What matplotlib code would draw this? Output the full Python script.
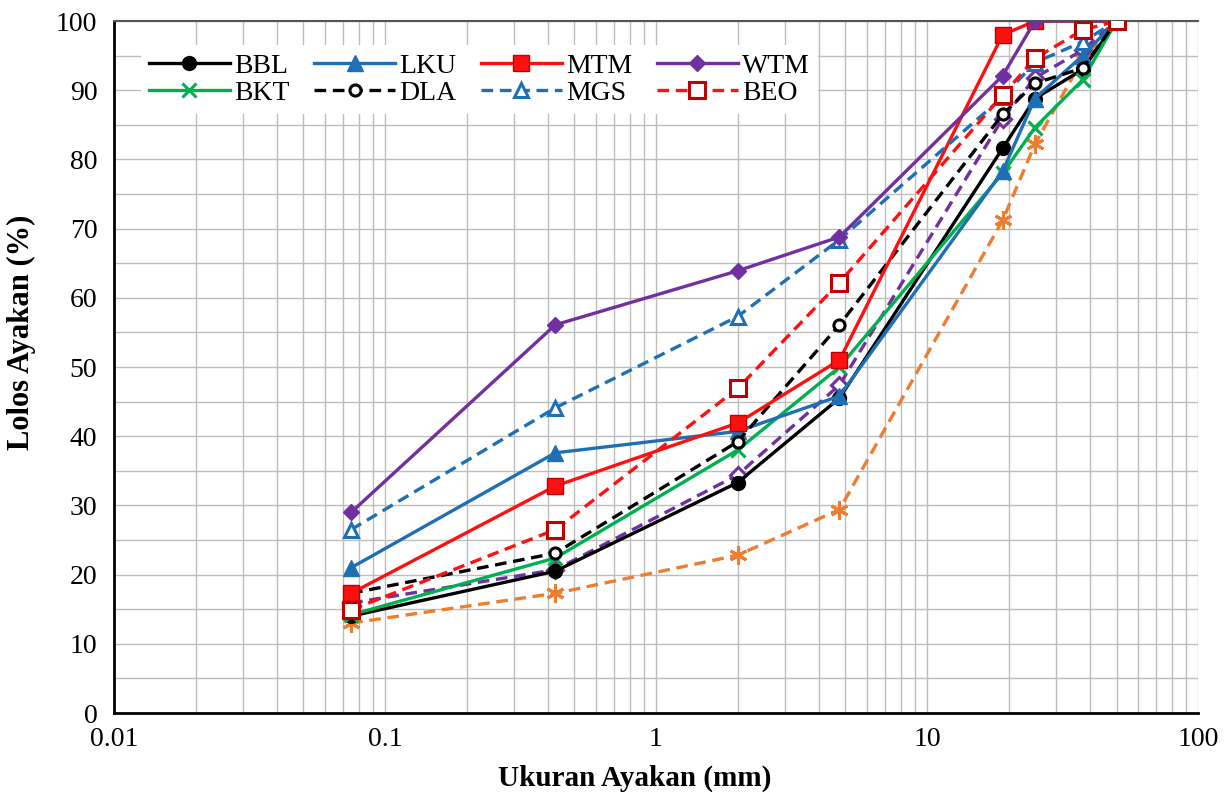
import numpy as np
import matplotlib
matplotlib.use("Agg")
import matplotlib.pyplot as plt
from matplotlib.ticker import MultipleLocator, LogLocator, NullFormatter, FixedFormatter, FixedLocator

plt.rcParams['font.family'] = ['Liberation Serif', 'DejaVu Serif']

# ukuran saringan (mm)
sieve = [0.075, 0.425, 2.0, 4.75, 19.0, 25.0, 37.5, 50.0]

# persen lolos tiap sumber
BBL = [14.0, 20.5, 33.3, 45.5, 81.6, 88.8, 93.0, 100]
LKU = [21.0, 37.6, 40.7, 45.8, 78.3, 88.8, 95.0, 100]
MTM = [17.3, 32.8, 41.9, 51.0, 98.0, 100, 100, 100]
WTM = [29.0, 56.1, 63.9, 68.8, 92.1, 100, 100, 100]
BKT = [14.2, 22.4, 38.0, 50.0, 78.0, 84.6, 91.5, 100]
DLA = [17.3, 23.1, 39.2, 56.1, 86.5, 91.0, 93.2, 100]
MGS = [26.5, 44.1, 57.3, 68.4, 89.0, 94.0, 97.0, 100]
BEO = [14.9, 26.5, 46.9, 62.2, 89.3, 94.6, 98.7, 100]
UNK_PURPLE = [15.9, 20.7, 34.4, 47.4, 85.9, 91.8, 95.8, 100]
UNK_ORANGE = [13.0, 17.3, 22.8, 29.4, 71.2, 82.2, 94.5, 100]

BLACK = "#000000"; BLUE = "#1f6fb5"; RED = "#ff1010"; PURPLE = "#7030a0"
GREEN = "#00b050"; ORANGE = "#ed7d31"; DRED = "#c00000"

fig = plt.figure(figsize=(12.32, 7.94), dpi=100)
ax = fig.add_axes([0.0925, 0.102, 0.88, 0.8715])

lw = 2.4
ms = 10
dash = (3.5, 2.0)

# garis di belakang dulu
ax.plot(sieve, UNK_ORANGE, color=ORANGE, lw=lw, dashes=dash, marker=(6, 2, 0),
        ms=13, mew=2.2, label="_nolegend_", zorder=2)
ax.plot(sieve, UNK_PURPLE, color=PURPLE, lw=lw, dashes=dash, marker="D", ms=8,
        mfc="white", mec=PURPLE, mew=2.2, label="_nolegend_", zorder=2)

ax.plot(sieve, BBL, color=BLACK, lw=lw, marker="o", ms=ms, mfc=BLACK, label="BBL", zorder=3)
ax.plot(sieve, BKT, color=GREEN, lw=lw, marker="x", ms=ms, mew=2.2, label="BKT", zorder=3)
ax.plot(sieve, LKU, color=BLUE, lw=lw, marker="^", ms=ms + 1, mfc=BLUE, label="LKU", zorder=3)
ax.plot(sieve, DLA, color=BLACK, lw=lw, dashes=dash, marker="o", ms=8, mfc="white",
        mew=2.2, label="DLA", zorder=3)
ax.plot(sieve, MTM, color=RED, lw=lw, marker="s", ms=ms + 1, mfc=RED, mec=DRED,
        label="MTM", zorder=3)
ax.plot(sieve, MGS, color=BLUE, lw=lw, dashes=dash, marker="^", ms=ms, mfc="white",
        mew=2.2, label="MGS", zorder=3)
ax.plot(sieve, WTM, color=PURPLE, lw=lw, marker="D", ms=8, mfc=PURPLE, label="WTM", zorder=3)
ax.plot(sieve, BEO, color=RED, lw=lw, dashes=dash, marker="s", ms=ms + 1, mfc="white",
        mec=DRED, mew=2.2, label="BEO", zorder=3)

ax.set_xscale("log")
ax.set_xlim(0.01, 100)
ax.set_ylim(0, 100)
ax.xaxis.set_major_locator(FixedLocator([0.01, 0.1, 1, 10, 100]))
ax.xaxis.set_major_formatter(FixedFormatter(["0.01", "0.1", "1", "10", "100"]))
ax.xaxis.set_minor_locator(LogLocator(base=10, subs=np.arange(2, 10)))
ax.xaxis.set_minor_formatter(NullFormatter())
ax.yaxis.set_major_locator(MultipleLocator(10))
ax.yaxis.set_minor_locator(MultipleLocator(5))

ax.grid(which="both", color="#bdbdbd", lw=1.0, zorder=0)
ax.set_axisbelow(True)
ax.tick_params(which="both", length=0, labelsize=20)
ax.tick_params(axis="y", pad=12)
ax.tick_params(axis="x", pad=10)

for s in ["left", "bottom"]:
    ax.spines[s].set_linewidth(2.0)
    ax.spines[s].set_color("black")
ax.spines["top"].set_color("#555555")
ax.spines["top"].set_linewidth(1.5)
ax.spines["right"].set_visible(False)

ax.set_xlabel("Ukuran Ayakan (mm)", fontsize=21, fontweight="bold")
ax.xaxis.set_label_coords(0.48, -0.075)
ax.set_ylabel("Lolos Ayakan (%)", fontsize=22, fontweight="bold")
ax.yaxis.set_label_coords(-0.072, 0.55)

leg = ax.legend(loc="upper left", bbox_to_anchor=(0.012, 0.985), ncol=4, fontsize=20,
                frameon=True, fancybox=False, edgecolor="none", facecolor="white",
                framealpha=1, handlelength=2.9, handletextpad=0.15, columnspacing=0.9,
                labelspacing=0.05, borderpad=0.3)

fig.savefig("out.png", dpi=100)
